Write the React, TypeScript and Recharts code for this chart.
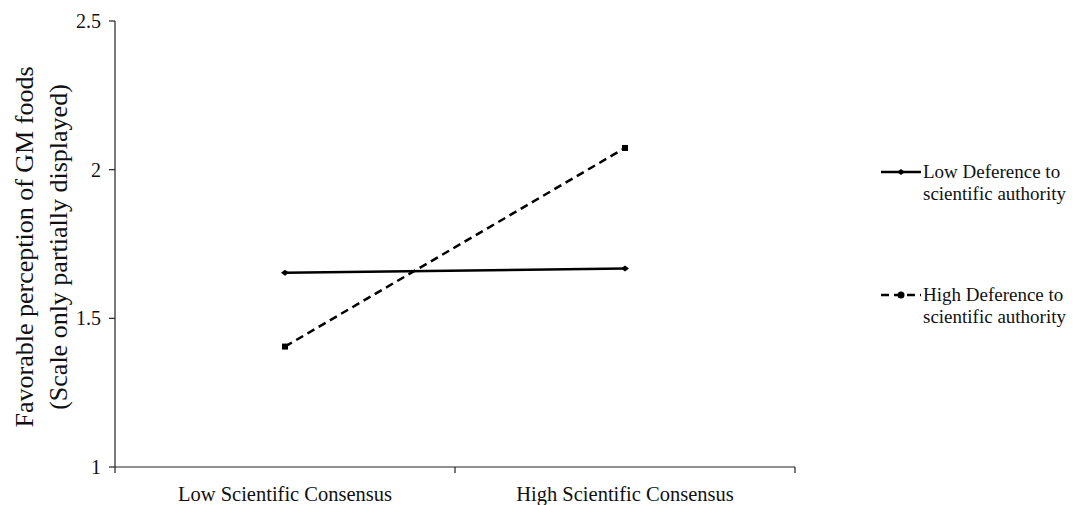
import { LineChart, Line, XAxis, YAxis } from "recharts";

const categories = ["Low Scientific Consensus", "High Scientific Consensus"];
const lowDeference = [1.653, 1.668];
const highDeference = [1.405, 2.073];
const yTicks = [1, 1.5, 2, 2.5];
const seriesNames = [
  ["Low Deference to", "scientific authority"],
  ["High Deference to", "scientific authority"],
];

const data = categories.map((name, i) => ({
  name,
  x: i + 0.5,
  low: lowDeference[i],
  high: highDeference[i],
}));

const FONT = '"Liberation Serif", "Times New Roman", serif';
const AXIS = "#222";

// ticks at integer positions are boundary marks; half positions carry the labels
const XTick = (props: any) => {
  const { x, y, payload } = props;
  const v = payload.value as number;
  if (Number.isInteger(v)) {
    return <line x1={x} x2={x} y1={y - 8} y2={y - 2} stroke={AXIS} strokeWidth={1.2} />;
  }
  return (
    <text x={x} y={y + 26} textAnchor="middle" fontFamily={FONT} fontSize={20.5} fill="#111">
      {categories[Math.floor(v)]}
    </text>
  );
};

const Diamond = (props: any) => {
  const { cx, cy } = props;
  return <path d={`M${cx - 4},${cy} L${cx},${cy - 3} L${cx + 4},${cy} L${cx},${cy + 3} Z`} fill="#000" />;
};

const Square = (props: any) => {
  const { cx, cy } = props;
  return <rect x={cx - 3} y={cy - 3} width={6} height={6} fill="#000" />;
};

const LegendBox = () => (
  <div
    style={{
      position: "absolute",
      left: 879,
      top: 161,
      width: 204,
      fontFamily: FONT,
      fontSize: 19,
      color: "#111",
      lineHeight: "22px",
    }}
  >
    {seriesNames.map((lines, i) => (
      <div key={i} style={{ display: "flex", alignItems: "flex-start", marginBottom: i === 0 ? 79 : 0 }}>
        <svg width={44} height={22} style={{ flexShrink: 0 }}>
          {i === 0 ? (
            <>
              <line x1={2} x2={42} y1={11} y2={11} stroke="#000" strokeWidth={2.5} />
              <path d="M18,11 L22,8 L26,11 L22,14 Z" fill="#000" />
            </>
          ) : (
            <>
              <line x1={2} x2={42} y1={11} y2={11} stroke="#000" strokeWidth={2.5} strokeDasharray="8 5" />
              <circle cx={22} cy={11} r={3.5} fill="#000" />
            </>
          )}
        </svg>
        <div>
          {lines.map((t) => (
            <div key={t}>{t}</div>
          ))}
        </div>
      </div>
    ))}
  </div>
);

export default function App() {
  return (
    <div style={{ position: "absolute", left: 0, top: 0, width: 1083, height: 505, background: "#fff" }}>
      <LineChart width={1083} height={505} data={data} margin={{ top: 21, right: 288, bottom: 0, left: 0 }}>
        <XAxis
          dataKey="x"
          type="number"
          domain={[0, 2]}
          ticks={[0, 0.5, 1, 1.5, 2]}
          tick={<XTick />}
          tickLine={false}
          axisLine={{ stroke: AXIS, strokeWidth: 1.2 }}
          height={38}
          interval={0}
        />
        <YAxis
          type="number"
          domain={[1, 2.5]}
          ticks={yTicks}
          width={115}
          tickSize={6}
          tickMargin={8}
          tickLine={{ stroke: AXIS, strokeWidth: 1.2 }}
          axisLine={{ stroke: AXIS, strokeWidth: 1.2 }}
          tick={{ fontFamily: FONT, fontSize: 20, fill: "#111" }}
        />
        <Line
          dataKey="low"
          stroke="#000"
          strokeWidth={2.5}
          dot={<Diamond />}
          activeDot={false}
          isAnimationActive={false}
        />
        <Line
          dataKey="high"
          stroke="#000"
          strokeWidth={2.5}
          strokeDasharray="8 5"
          dot={<Square />}
          activeDot={false}
          isAnimationActive={false}
        />
      </LineChart>
      <svg width={80} height={505} style={{ position: "absolute", left: 0, top: 0, pointerEvents: "none" }}>
        <g fontFamily={FONT} fontSize={26} fill="#111" textAnchor="middle">
          <text transform="translate(33,247) rotate(-90)">Favorable perception of GM foods</text>
          <text transform="translate(67,247) rotate(-90)">(Scale only partially displayed)</text>
        </g>
      </svg>
      <LegendBox />
    </div>
  );
}
